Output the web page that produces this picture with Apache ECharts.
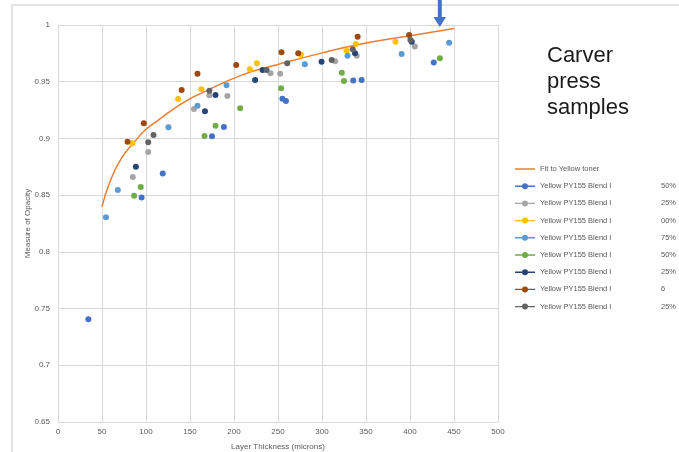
<!DOCTYPE html>
<html>
<head>
<meta charset="utf-8">
<script src="https://cdn.jsdelivr.net/npm/echarts@6/dist/echarts.min.js"></script>
<style>
  html, body { margin: 0; padding: 0; background: #fff; }
  #main { width: 679px; height: 452px; }
</style>
</head>
<body>
<div id="main"></div>
<script>
// fitted curve
var fitX = [50, 59, 72, 87, 99, 114, 141, 163, 211, 249, 298, 343, 400, 450];
var fitY = [0.8398, 0.8618, 0.8825, 0.897, 0.9074, 0.9162, 0.931, 0.94, 0.9565, 0.965, 0.975, 0.983, 0.9906, 0.997];

// samples: layer thickness (microns) / measure of opacity
var s1X = [34.5, 95, 119, 175, 188.5, 255, 259, 335.5, 345, 427];
var s1Y = [0.7405, 0.848, 0.869, 0.902, 0.910, 0.935, 0.933, 0.951, 0.9515, 0.967];
var s2X = [85, 102.5, 154.5, 172, 192.5, 241.5, 252.5, 315, 339.5, 405.5];
var s2Y = [0.866, 0.888, 0.926, 0.938, 0.9375, 0.9575, 0.957, 0.968, 0.973, 0.981];
var s3X = [84.5, 136.5, 163, 218, 226, 276, 328, 338.5, 383.5];
var s3Y = [0.8957, 0.9347, 0.9433, 0.961, 0.9662, 0.9741, 0.9774, 0.9832, 0.9853];
var s4X = [54.5, 68, 125.5, 158.5, 191.5, 280.5, 329, 390.5, 444.5];
var s4Y = [0.8304, 0.8545, 0.9098, 0.9289, 0.9468, 0.9653, 0.9729, 0.9744, 0.9844];
var s5X = [86.5, 94, 166.5, 179, 207, 253.5, 322.5, 325, 434];
var s5Y = [0.8495, 0.8571, 0.9021, 0.9112, 0.9265, 0.9442, 0.9579, 0.9506, 0.9706];
var s6X = [88.5, 167, 179, 224, 232.5, 299.5, 337.5, 402];
var s6Y = [0.875, 0.9239, 0.9383, 0.9515, 0.9603, 0.9677, 0.975, 0.9853];
var s7X = [79, 97.5, 140.5, 158.5, 202.5, 254, 273, 340.5, 399];
var s7Y = [0.8971, 0.9133, 0.9427, 0.957, 0.9647, 0.9759, 0.975, 0.9897, 0.9912];
var s8X = [102.5, 108.5, 172, 237, 260.5, 311, 335, 400.5];
var s8Y = [0.8966, 0.903, 0.9421, 0.9603, 0.9662, 0.9691, 0.9786, 0.9868];

var fitName = 'Fit to Yellow toner';
var blendName = 'Yellow PY155 Blend I';
var blendPct = ['50%', '25%', '00%', '75%', '50%', '25%', '6', '25%'];
var colors = ['#4472C4', '#A5A5A5', '#FFC000', '#5B9BD5', '#70AD47', '#264478', '#9E480E', '#636363'];

var xs = [s1X, s2X, s3X, s4X, s5X, s6X, s7X, s8X];
var ys = [s1Y, s2Y, s3Y, s4Y, s5Y, s6Y, s7Y, s8Y];

function zip(a, b) {
  return a.map(function (v, i) { return [v, b[i]]; });
}

var font = 'Liberation Sans';
var grid = '#D9D9D9';
var textCol = '#595959';
// legend icons: plain line (padded to the same box), and line with a dot
var lineIcon = 'path://M0,3.3 L20,3.3 L20,4.7 L0,4.7 Z M0,1 L0,1.01 L0.01,1 Z M0,7 L0,7.01 L0.01,7 Z';
var markIcon = 'path://M0,3.3 L20,3.3 L20,4.7 L0,4.7 Z M7,4 A3,3 0 1,1 13,4 A3,3 0 1,1 7,4 Z';

var series = [{
  name: fitName,
  type: 'line',
  data: zip(fitX, fitY),
  smooth: true,
  symbol: 'none',
  lineStyle: { color: '#ED7D31', width: 1.5 },
  itemStyle: { color: '#ED7D31' },
  z: 2
}];
var legendData = [{ name: fitName, icon: lineIcon }];
for (var i = 0; i < 8; i++) {
  var nm = blendName + ' ' + (i + 1);
  series.push({
    name: nm,
    type: 'scatter',
    data: zip(xs[i], ys[i]),
    symbolSize: 6,
    itemStyle: { color: colors[i], opacity: 1 },
    z: 3
  });
  legendData.push({ name: nm, icon: markIcon });
}

var chart = echarts.init(document.getElementById('main'), null, { renderer: 'canvas' });
chart.setOption({
  backgroundColor: '#fff',
  animation: false,
  textStyle: { fontFamily: font },
  grid: { left: 58, right: 181, top: 25, bottom: 30, containLabel: false, outerBoundsMode: 'none' },
  xAxis: {
    type: 'value',
    min: 0, max: 500, interval: 50,
    name: 'Layer Thickness (microns)',
    nameLocation: 'middle',
    nameGap: 21,
    nameMoveOverlap: false,
    nameTextStyle: { fontSize: 8, color: textCol, fontFamily: font },
    axisLine: { show: true, lineStyle: { color: grid } },
    axisTick: { show: false },
    axisLabel: { fontSize: 8, color: textCol, margin: 6, fontFamily: font },
    splitLine: { show: true, lineStyle: { color: grid, width: 1 } }
  },
  yAxis: {
    type: 'value',
    min: 0.65, max: 1, interval: 0.05,
    name: 'Measure of Opacity',
    nameLocation: 'middle',
    nameGap: 26,
    nameMoveOverlap: false,
    nameTextStyle: { fontSize: 8, color: textCol, fontFamily: font },
    axisLine: { show: false },
    axisTick: { show: false },
    axisLabel: { fontSize: 8, color: textCol, margin: 8, fontFamily: font },
    splitLine: { show: true, lineStyle: { color: grid, width: 1 } }
  },
  legend: {
    orient: 'vertical',
    left: 515,
    top: 165,
    padding: 0,
    itemWidth: 20,
    itemHeight: 7,
    itemGap: 9.2,
    data: legendData,
    formatter: function (name) {
      if (name === fitName) return '{n|' + name + '}';
      var k = parseInt(name.split(' ').pop(), 10) - 1;
      return '{n|' + blendName + '}{p|' + blendPct[k] + '}';
    },
    textStyle: {
      fontSize: 7.5, color: textCol, fontFamily: font,
      rich: {
        n: { width: 121, fontSize: 7.5, color: textCol, fontFamily: font },
        p: { fontSize: 7.5, color: textCol, fontFamily: font }
      }
    }
  },
  graphic: [
    {
      type: 'rect',
      shape: { x: 12, y: 5, width: 720, height: 500 },
      style: { fill: null, stroke: '#E4E4E4', lineWidth: 2 },
      silent: true, z: 0
    },
    {
      type: 'text',
      left: 547, top: 43,
      style: {
        text: 'Carver\npress\nsamples',
        font: '22px "Liberation Sans"',
        lineHeight: 26,
        fill: '#1a1a1a'
      },
      z: 10
    },
    {
      type: 'rect',
      shape: { x: 437.8, y: 0, width: 4, height: 18 },
      style: { fill: '#4472C4' },
      z: 10
    },
    {
      type: 'polygon',
      shape: { points: [[433.5, 17], [446, 17], [439.8, 27]] },
      style: { fill: '#4472C4' },
      z: 10
    }
  ],
  series: series
});
</script>
</body>
</html>
